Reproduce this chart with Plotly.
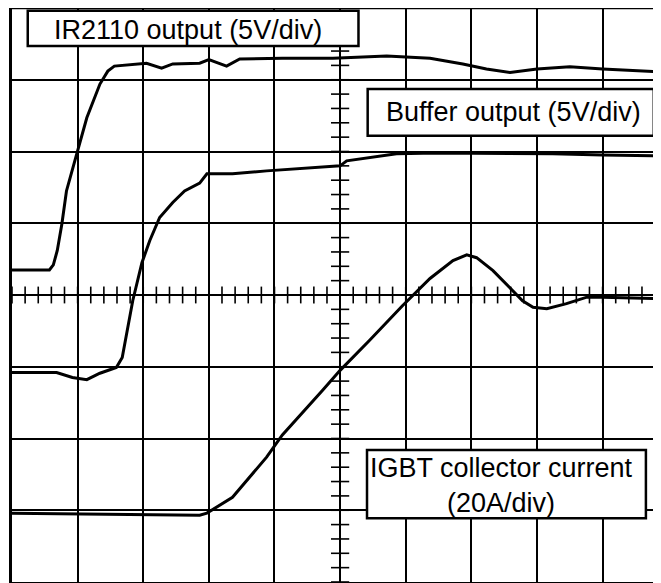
import numpy as np
import plotly.graph_objects as go

# Oscilloscope traces, in screen divisions (x: time div, y: vertical div)
ir2110_x = [-5.05, -4.43, -4.37, -4.31, -4.24, -4.17, -4.03, -3.86, -3.66, -3.54, -3.44, -2.95, -2.72,
            -2.55, -2.14, -2.0, -1.73, -1.53, -0.88, -0.11, 0.71, 1.37, 1.87, 2.23, 2.59, 3.0, 3.5, 4.0, 4.89]
ir2110_y = [0.35, 0.35, 0.42, 0.62, 0.99, 1.45, 1.91, 2.47, 2.94, 3.12, 3.19, 3.23, 3.16,
            3.22, 3.23, 3.28, 3.19, 3.29, 3.30, 3.30, 3.33, 3.30, 3.22, 3.15, 3.10, 3.15, 3.18, 3.15, 3.11]

buffer_x = [-5.05, -4.32, -4.08, -3.86, -3.66, -3.41, -3.32, -3.24, -3.16, -3.02, -2.90, -2.75, -2.55,
            -2.37, -2.14, -2.03, -1.64, -1.12, -0.62, 0.0, 0.1, 0.86, 1.47, 2.23, 3.24, 4.0, 4.89]
buffer_y = [-1.08, -1.08, -1.15, -1.18, -1.09, -1.01, -0.87, -0.49, -0.08, 0.45, 0.76, 1.08, 1.29,
            1.45, 1.56, 1.69, 1.69, 1.73, 1.76, 1.80, 1.87, 1.97, 1.98, 1.98, 1.97, 1.95, 1.94]

igbt_x = [-5.05, -2.14, -2.03, -1.64, -1.12, -0.88, -0.27, 0.0, 0.45, 0.95, 1.37, 1.72, 1.93, 2.08,
          2.33, 2.59, 2.78, 2.94, 3.15, 3.45, 3.76, 4.0, 4.89]
igbt_y = [-3.04, -3.07, -3.04, -2.82, -2.26, -1.95, -1.33, -1.05, -0.63, -0.15, 0.23, 0.48, 0.56, 0.52,
          0.34, 0.10, -0.08, -0.17, -0.19, -0.12, -0.03, -0.03, -0.05]

labels = ["IR2110 output (5V/div)", "Buffer output (5V/div)", "IGBT collector current<br>(20A/div)"]

fig = go.Figure()

# center graticule minor ticks
minor = np.round(np.arange(-5, 5.01, 0.2), 2)
fig.add_trace(go.Scatter(x=minor, y=np.zeros_like(minor), mode="markers", hoverinfo="skip",
                         marker=dict(symbol="line-ns", size=12, line=dict(color="black", width=1.6)),
                         showlegend=False))
minor_y = np.round(np.arange(-4, 4.01, 0.2), 2)
fig.add_trace(go.Scatter(x=np.zeros_like(minor_y), y=minor_y, mode="markers", hoverinfo="skip",
                         marker=dict(symbol="line-ew", size=13, line=dict(color="black", width=1.6)),
                         showlegend=False))

for xs, ys in [(ir2110_x, ir2110_y), (buffer_x, buffer_y), (igbt_x, igbt_y)]:
    fig.add_trace(go.Scatter(x=xs, y=ys, mode="lines", line=dict(color="black", width=3),
                             showlegend=False, hoverinfo="skip"))

# label boxes
boxes = [(-4.76, 0.28, 3.47, 3.96), (0.42, 4.78, 2.22, 2.87), (0.41, 4.66, -3.11, -2.16)]
centers = [(-2.32, 3.70), (2.64, 2.55), (2.46, -2.66)]
for (x0, x1, y0, y1) in boxes:
    fig.add_shape(type="rect", xref="x", yref="y", x0=x0, x1=x1, y0=y0, y1=y1,
                  fillcolor="white", line=dict(color="black", width=2.5), layer="above")
for (cx, cy), t in zip(centers, labels):
    fig.add_annotation(x=cx, y=cy, xref="x", yref="y", text=t, showarrow=False,
                       xanchor="center", yanchor="middle",
                       font=dict(family="Liberation Sans, Arial", size=27, color="black"))

# frame top line
fig.add_shape(type="line", xref="paper", yref="paper", x0=0, x1=1, y0=1, y1=1,
              line=dict(color="black", width=2.5))

fig.update_xaxes(range=[-5, 4.89], dtick=1, tick0=0, showgrid=True, gridcolor="black", gridwidth=1.5,
                 zeroline=True, zerolinecolor="black", zerolinewidth=1.8,
                 showticklabels=False, ticks="", showline=True, linecolor="black", linewidth=2.5)
fig.update_yaxes(range=[-4, 4], dtick=1, tick0=0, showgrid=True, gridcolor="black", gridwidth=1.5,
                 zeroline=True, zerolinecolor="black", zerolinewidth=1.8,
                 showticklabels=False, ticks="", showline=True, linecolor="black", linewidth=2.5)

fig.update_layout(width=661, height=583, margin=dict(l=4, r=8, t=0, b=9),
                  plot_bgcolor="white", paper_bgcolor="white")

fig.write_html("out.html")
